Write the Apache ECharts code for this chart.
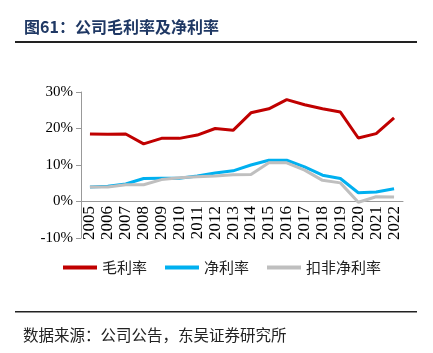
<!DOCTYPE html>
<html>
<head>
<meta charset="utf-8">
<script src="https://cdn.jsdelivr.net/npm/echarts@6/dist/echarts.min.js"></script>
<style>
html, body { margin: 0; padding: 0; background: #fff; }
#chart { width: 433px; height: 353px; }
</style>
</head>
<body>
<div id="chart"></div>
<script>
let years = ['2005', '2006', '2007', '2008', '2009', '2010', '2011', '2012', '2013',
    '2014', '2015', '2016', '2017', '2018', '2019', '2020', '2021', '2022'];
let grossMargin = [18.5, 18.4, 18.5, 15.8, 17.3, 17.3, 18.2, 20.0, 19.5,
    24.3, 25.4, 27.9, 26.5, 25.4, 24.5, 17.4, 18.6, 22.9];
let netMargin = [4.0, 4.2, 4.8, 6.3, 6.4, 6.4, 7.0, 7.8, 8.4,
    10.0, 11.3, 11.3, 9.5, 7.2, 6.3, 2.4, 2.6, 3.5];
let deductedNetMargin = [4.0, 4.0, 4.6, 4.6, 6.0, 6.5, 6.8, 7.0, 7.3,
    7.4, 10.6, 10.6, 8.6, 5.8, 5.1, -0.2, 1.3, 1.2];
let seriesNames = ['毛利率', '净利率', '扣非净利率'];

let latin = '"Liberation Serif", "Times New Roman", serif';
let cjk = '"Noto Sans CJK SC", sans-serif';

let chart = echarts.init(document.getElementById('chart'));

let option = {
    animation: false,
    color: ['#C00000', '#00B0F0', '#BFBFBF'],
    graphic: [
        {
            type: 'text', left: 24, top: 19,
            style: { text: '图61：公司毛利率及净利率', fill: '#1F3864', font: 'bold 16px ' + cjk }
        },
        {
            type: 'rect', shape: { x: 15, y: 41, width: 402, height: 2 },
            style: { fill: '#222' }
        },
        {
            type: 'rect', shape: { x: 15, y: 311, width: 402, height: 1.5 },
            style: { fill: '#222' }
        },
        {
            type: 'text', left: 23, top: 327,
            style: { text: '数据来源：公司公告，东吴证券研究所', fill: '#222', font: '15.5px ' + cjk }
        }
    ],
    legend: {
        data: seriesNames,
        top: 255,
        left: 58,
        itemGap: 18,
        itemWidth: 34,
        itemHeight: 4,
        icon: 'rect',
        textStyle: { fontFamily: cjk, fontSize: 15, color: '#222' }
    },
    grid: { left: 81, right: 30, top: 92, bottom: 115 },
    xAxis: {
        type: 'category',
        data: years,
        axisLine: { onZero: true, lineStyle: { color: '#999' } },
        axisTick: { lineStyle: { color: '#999' }, length: 5 },
        axisLabel: { interval: 0, rotate: 90, fontFamily: latin, fontSize: 17, color: '#000', margin: -32 }
    },
    yAxis: {
        type: 'value',
        min: -10,
        max: 30,
        interval: 10,
        splitLine: { show: false },
        axisLine: { show: true, lineStyle: { color: '#999' } },
        axisTick: { show: true, lineStyle: { color: '#999' }, length: 5 },
        axisLabel: { formatter: '{value}%', fontFamily: latin, fontSize: 15, color: '#000', margin: 8 }
    },
    series: [
        { name: seriesNames[0], type: 'line', data: grossMargin, symbol: 'none', lineStyle: { width: 3 } },
        { name: seriesNames[1], type: 'line', data: netMargin, symbol: 'none', lineStyle: { width: 3 } },
        { name: seriesNames[2], type: 'line', data: deductedNetMargin, symbol: 'none', lineStyle: { width: 3 } }
    ]
};

chart.setOption(option);
</script>
</body>
</html>
